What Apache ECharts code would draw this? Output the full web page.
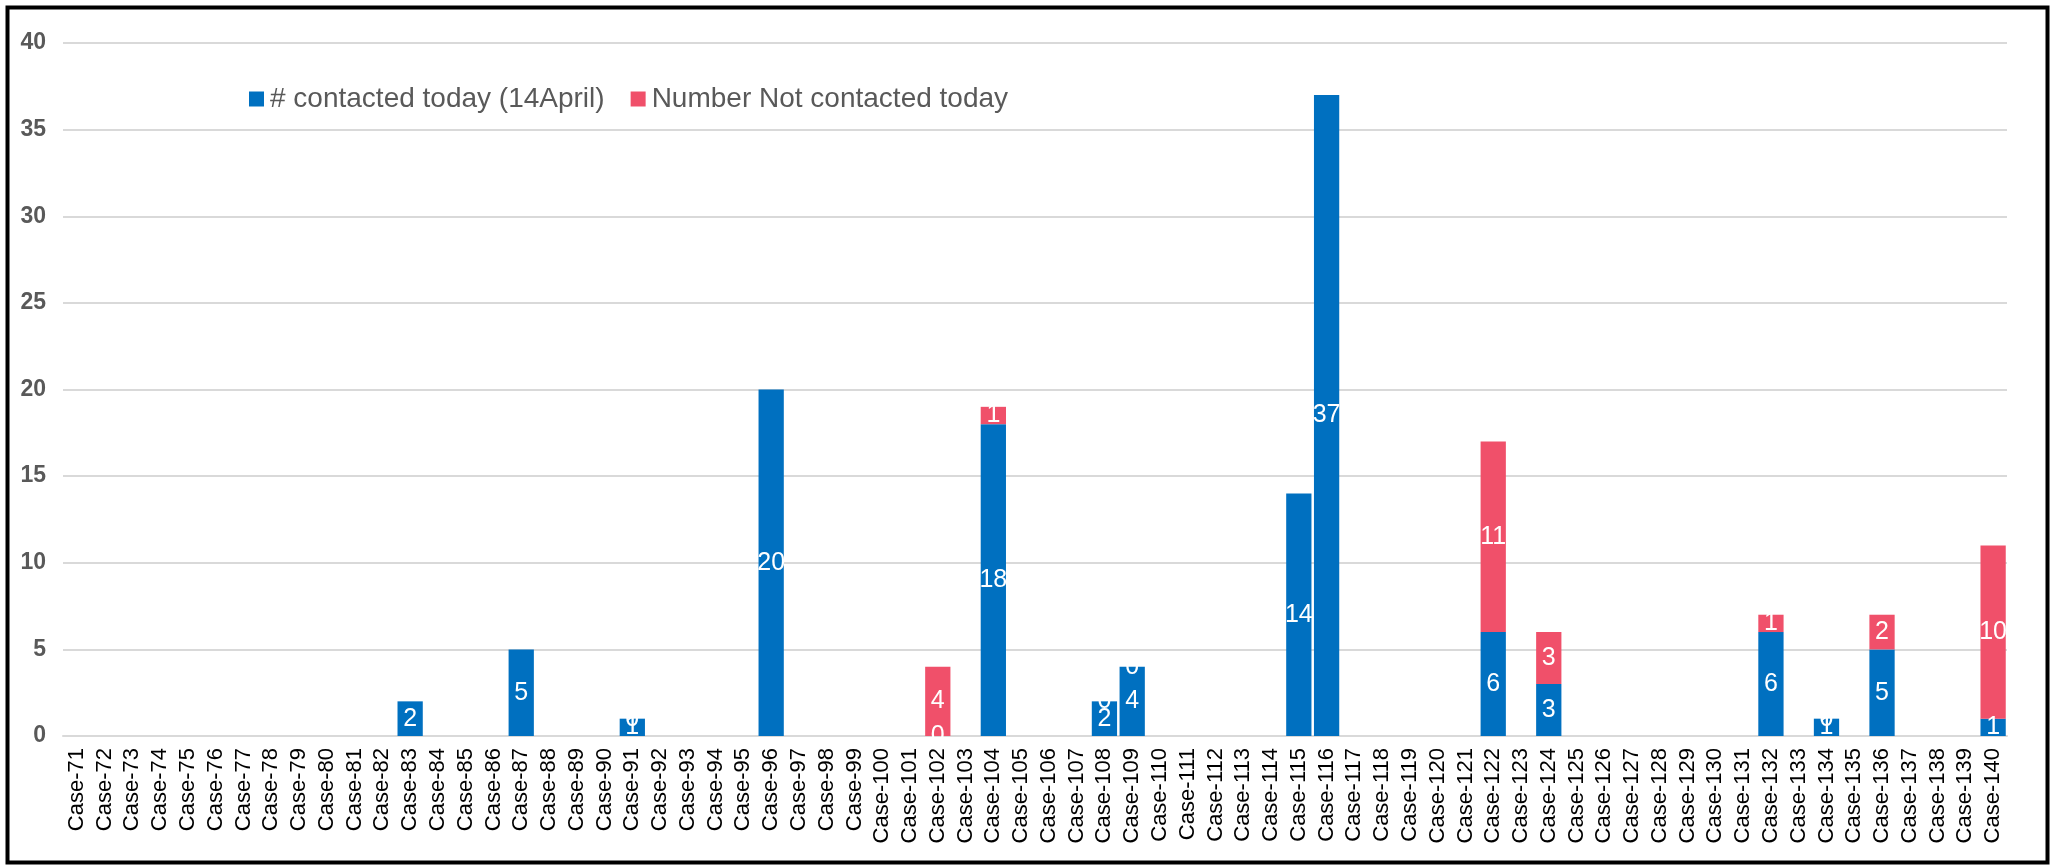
<!DOCTYPE html>
<html>
<head>
<meta charset="utf-8">
<script src="https://cdn.jsdelivr.net/npm/echarts@6/dist/echarts.min.js"></script>
<style>
  html, body { margin: 0; padding: 0; background: #fff; }
  #chart { width: 2051px; height: 865px; }
</style>
</head>
<body>
<div id="chart"></div>
<script>
// Cases 71..140, stacked: contacted today vs not contacted
const cases = []
for (let n = 71; n <= 140; n++) cases.push('Case-' + n)

// '-' = blank cell in the sheet (no bar, no label)
const contacted = cases.map(() => '-')
const notContacted = cases.map(() => '-')

const contactedVals = {
  83: 2, 87: 5, 91: 1, 96: 20, 102: 0, 104: 18, 108: 2, 109: 4,
  115: 14, 116: 37, 122: 6, 124: 3, 132: 6, 134: 1, 136: 5, 140: 1,
}
const notContactedVals = {
  91: 0, 102: 4, 104: 1, 108: 0, 109: 0, 122: 11, 124: 3,
  132: 1, 134: 0, 136: 2, 140: 10,
}
Object.keys(contactedVals).forEach((k) => { contacted[k - 71] = contactedVals[k] })
Object.keys(notContactedVals).forEach((k) => { notContacted[k - 71] = notContactedVals[k] })

const yTicks = { min: 0, max: 40, interval: 5 }

const BLUE = '#0070C0'
const RED = '#F0506A'
const FONT = '"Liberation Sans", Arial, sans-serif'

const chart = echarts.init(document.getElementById('chart'))

const barLabel = {
  show: true, position: 'inside', color: '#fff', fontSize: 25, fontFamily: FONT,
}

chart.setOption({
  animation: false,
  textStyle: { fontFamily: FONT },
  graphic: [{
    type: 'rect', left: 5, top: 5, silent: true,
    shape: { width: 2040, height: 855 },
    style: { fill: 'none', stroke: '#000', lineWidth: 4 },
  }],
  grid: { left: 63, right: 44, top: 43, bottom: 129 },
  legend: {
    left: 244, top: 80, itemGap: 26,
    icon: 'rect', itemWidth: 15, itemHeight: 15,
    textStyle: { color: '#595959', fontSize: 28, fontFamily: FONT, padding: [0, 0, 0, 1] },
    data: ['# contacted today (14April)', 'Number Not contacted today'],
  },
  xAxis: {
    type: 'category', data: cases,
    axisLine: { lineStyle: { color: '#d9d9d9', width: 2, type: [14, 5, 4, 5] } },
    axisTick: { show: false },
    axisLabel: {
      interval: 0, rotate: 90, color: '#000', fontSize: 22, fontFamily: FONT, margin: 12,
    },
  },
  yAxis: {
    type: 'value', min: yTicks.min, max: yTicks.max, interval: yTicks.interval,
    axisLine: { show: false }, axisTick: { show: false },
    axisLabel: { color: '#595959', fontSize: 23, fontWeight: 'bold', fontFamily: FONT, margin: 17 },
    splitLine: { lineStyle: { color: '#d9d9d9', width: 2 } },
  },
  series: [
    {
      name: '# contacted today (14April)', type: 'bar', stack: 'all',
      data: contacted, barCategoryGap: '9%',
      itemStyle: { color: BLUE },
      label: barLabel,
    },
    {
      name: 'Number Not contacted today', type: 'bar', stack: 'all',
      data: notContacted,
      itemStyle: { color: RED },
      label: barLabel,
    },
  ],
})
</script>
</body>
</html>
